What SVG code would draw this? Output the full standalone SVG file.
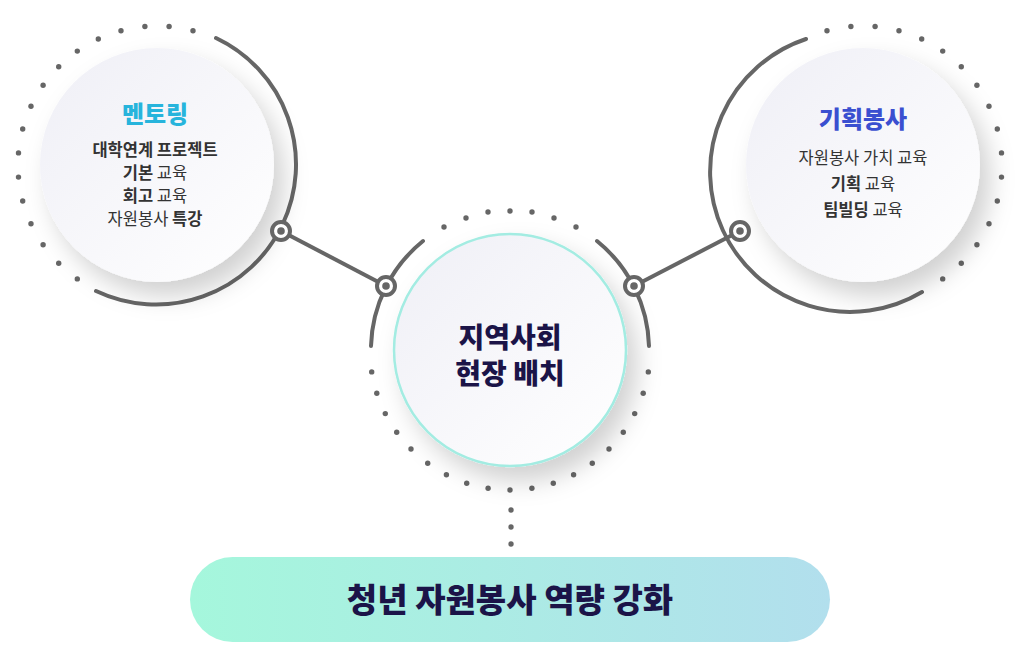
<svg xmlns="http://www.w3.org/2000/svg" width="1020" height="651" viewBox="0 0 1020 651">
<style>
.ring{fill:none;stroke:#666;stroke-width:4;stroke-linecap:round}
.d circle{r:2.7px;fill:#666}
.t{font-family:"Noto Sans CJK KR","Noto Sans",sans-serif;text-anchor:middle}
.b{font-size:16.5px;fill:#333}
.bb{font-weight:700}
</style>
<defs>
<linearGradient id="cg" x1="0" y1="0" x2="1" y2="1"><stop offset="0" stop-color="#efeff6"/><stop offset="1" stop-color="#ffffff"/></linearGradient>
<linearGradient id="pg" x1="0" y1="0" x2="1" y2="0"><stop offset="0" stop-color="#a5f7dc"/><stop offset="1" stop-color="#b2dfed"/></linearGradient>
<filter id="sh" x="-30%" y="-30%" width="170%" height="170%"><feDropShadow dx="10" dy="14" stdDeviation="12" flood-color="#000" flood-opacity="0.18"/></filter>
<g id="nd"><circle r="9" fill="#fff" stroke="#666" stroke-width="4"/><circle r="3.8" fill="#666"/></g>
</defs>
<g id="connectors">
<line x1="281" y1="231" x2="386" y2="286" stroke="#666" stroke-width="4"/>
<line x1="634" y1="286" x2="740" y2="231" stroke="#666" stroke-width="4"/>
<g class="d"><circle cx="511" cy="510"/><circle cx="511" cy="527"/><circle cx="511" cy="544"/></g>
</g>
<g id="left">
<path class="ring" d="M216 38 A140 140 0 1 1 96 291"/>
<g class="d">
<circle cx="77.3" cy="278.9"/><circle cx="58.7" cy="263.3"/><circle cx="43.1" cy="244.7"/><circle cx="31" cy="223.7"/><circle cx="22.7" cy="201"/><circle cx="18.5" cy="177.1"/><circle cx="18.5" cy="152.9"/><circle cx="22.7" cy="129"/><circle cx="31" cy="106.3"/><circle cx="43.1" cy="85.3"/><circle cx="58.7" cy="66.7"/><circle cx="77.3" cy="51.1"/><circle cx="98.3" cy="39"/><circle cx="121" cy="30.7"/><circle cx="144.9" cy="26.5"/><circle cx="169.1" cy="26.5"/><circle cx="193" cy="30.7"/>
</g>
<circle cx="157" cy="165" r="117" fill="url(#cg)" filter="url(#sh)"/>
<text class="t" x="155" y="123" font-size="24" font-weight="800" fill="#27b4dc">멘토링</text>
<text class="t b bb" x="155" y="156">대학연계 프로젝트</text>
<text class="t b" x="155" y="179"><tspan class="bb">기본</tspan> 교육</text>
<text class="t b" x="155" y="202"><tspan class="bb">회고</tspan> 교육</text>
<text class="t b" x="155" y="225">자원봉사 <tspan class="bb">특강</tspan></text>
<use href="#nd" x="281" y="231"/>
</g>
<g id="center">
<path class="ring" d="M423 241 A140 140 0 0 0 371 346"/>
<path class="ring" d="M597 241 A140 140 0 0 1 649 346"/>
<g class="d">
<circle cx="444" cy="227"/><circle cx="466" cy="218"/><circle cx="488" cy="212"/><circle cx="510" cy="211"/><circle cx="532" cy="212"/><circle cx="554" cy="218"/><circle cx="576" cy="227"/>
<circle cx="510" cy="490"/><circle cx="531.9" cy="488.3"/><circle cx="553.3" cy="483.2"/><circle cx="573.6" cy="474.7"/><circle cx="592.3" cy="463.3"/><circle cx="609" cy="449"/><circle cx="623.3" cy="432.3"/><circle cx="634.7" cy="413.6"/><circle cx="643.2" cy="393.3"/><circle cx="648.3" cy="371.9"/>
<circle cx="488.1" cy="488.3"/><circle cx="466.7" cy="483.2"/><circle cx="446.4" cy="474.7"/><circle cx="427.7" cy="463.3"/><circle cx="411" cy="449"/><circle cx="396.7" cy="432.3"/><circle cx="385.3" cy="413.6"/><circle cx="376.8" cy="393.3"/><circle cx="371.7" cy="371.9"/>
</g>
<circle cx="510" cy="350" r="116" fill="url(#cg)" stroke="#a3ece2" stroke-width="2.5" filter="url(#sh)"/>
<text class="t" x="510" y="348" font-size="28" font-weight="900" fill="#1b1448">지역사회</text>
<text class="t" x="510" y="384" font-size="28" font-weight="900" fill="#1b1448">현장 배치</text>
<use href="#nd" x="386" y="286"/>
<use href="#nd" x="634" y="286"/>
</g>
<g id="right">
<path class="ring" d="M806 39 A140 140 0 1 0 922 292"/>
<g class="d">
<circle cx="942.7" cy="278.9"/><circle cx="961.3" cy="263.3"/><circle cx="976.9" cy="244.7"/><circle cx="989" cy="223.7"/><circle cx="997.3" cy="201"/><circle cx="1001.5" cy="177.1"/><circle cx="1001.5" cy="152.9"/><circle cx="997.3" cy="129"/><circle cx="989" cy="106.3"/><circle cx="976.9" cy="85.3"/><circle cx="961.3" cy="66.7"/><circle cx="942.7" cy="51.1"/><circle cx="921.7" cy="39"/><circle cx="899" cy="30.7"/><circle cx="875.1" cy="26.5"/><circle cx="850.9" cy="26.5"/><circle cx="827" cy="30.7"/>
</g>
<circle cx="863" cy="165" r="117" fill="url(#cg)" filter="url(#sh)"/>
<text class="t" x="863" y="128" font-size="24" font-weight="800" fill="#3a4fd0">기획봉사</text>
<text class="t b" x="863" y="164">자원봉사 가치 교육</text>
<text class="t b" x="863" y="190"><tspan class="bb">기획</tspan> 교육</text>
<text class="t b" x="863" y="216"><tspan class="bb">팀빌딩</tspan> 교육</text>
<use href="#nd" x="740" y="231"/>
</g>
<g id="goal">
<rect x="190" y="557" width="640" height="85" rx="42.5" fill="url(#pg)"/>
<text class="t" x="510" y="612" font-size="33" font-weight="900" fill="#1b1448">청년 자원봉사 역량 강화</text>
</g>
</svg>
